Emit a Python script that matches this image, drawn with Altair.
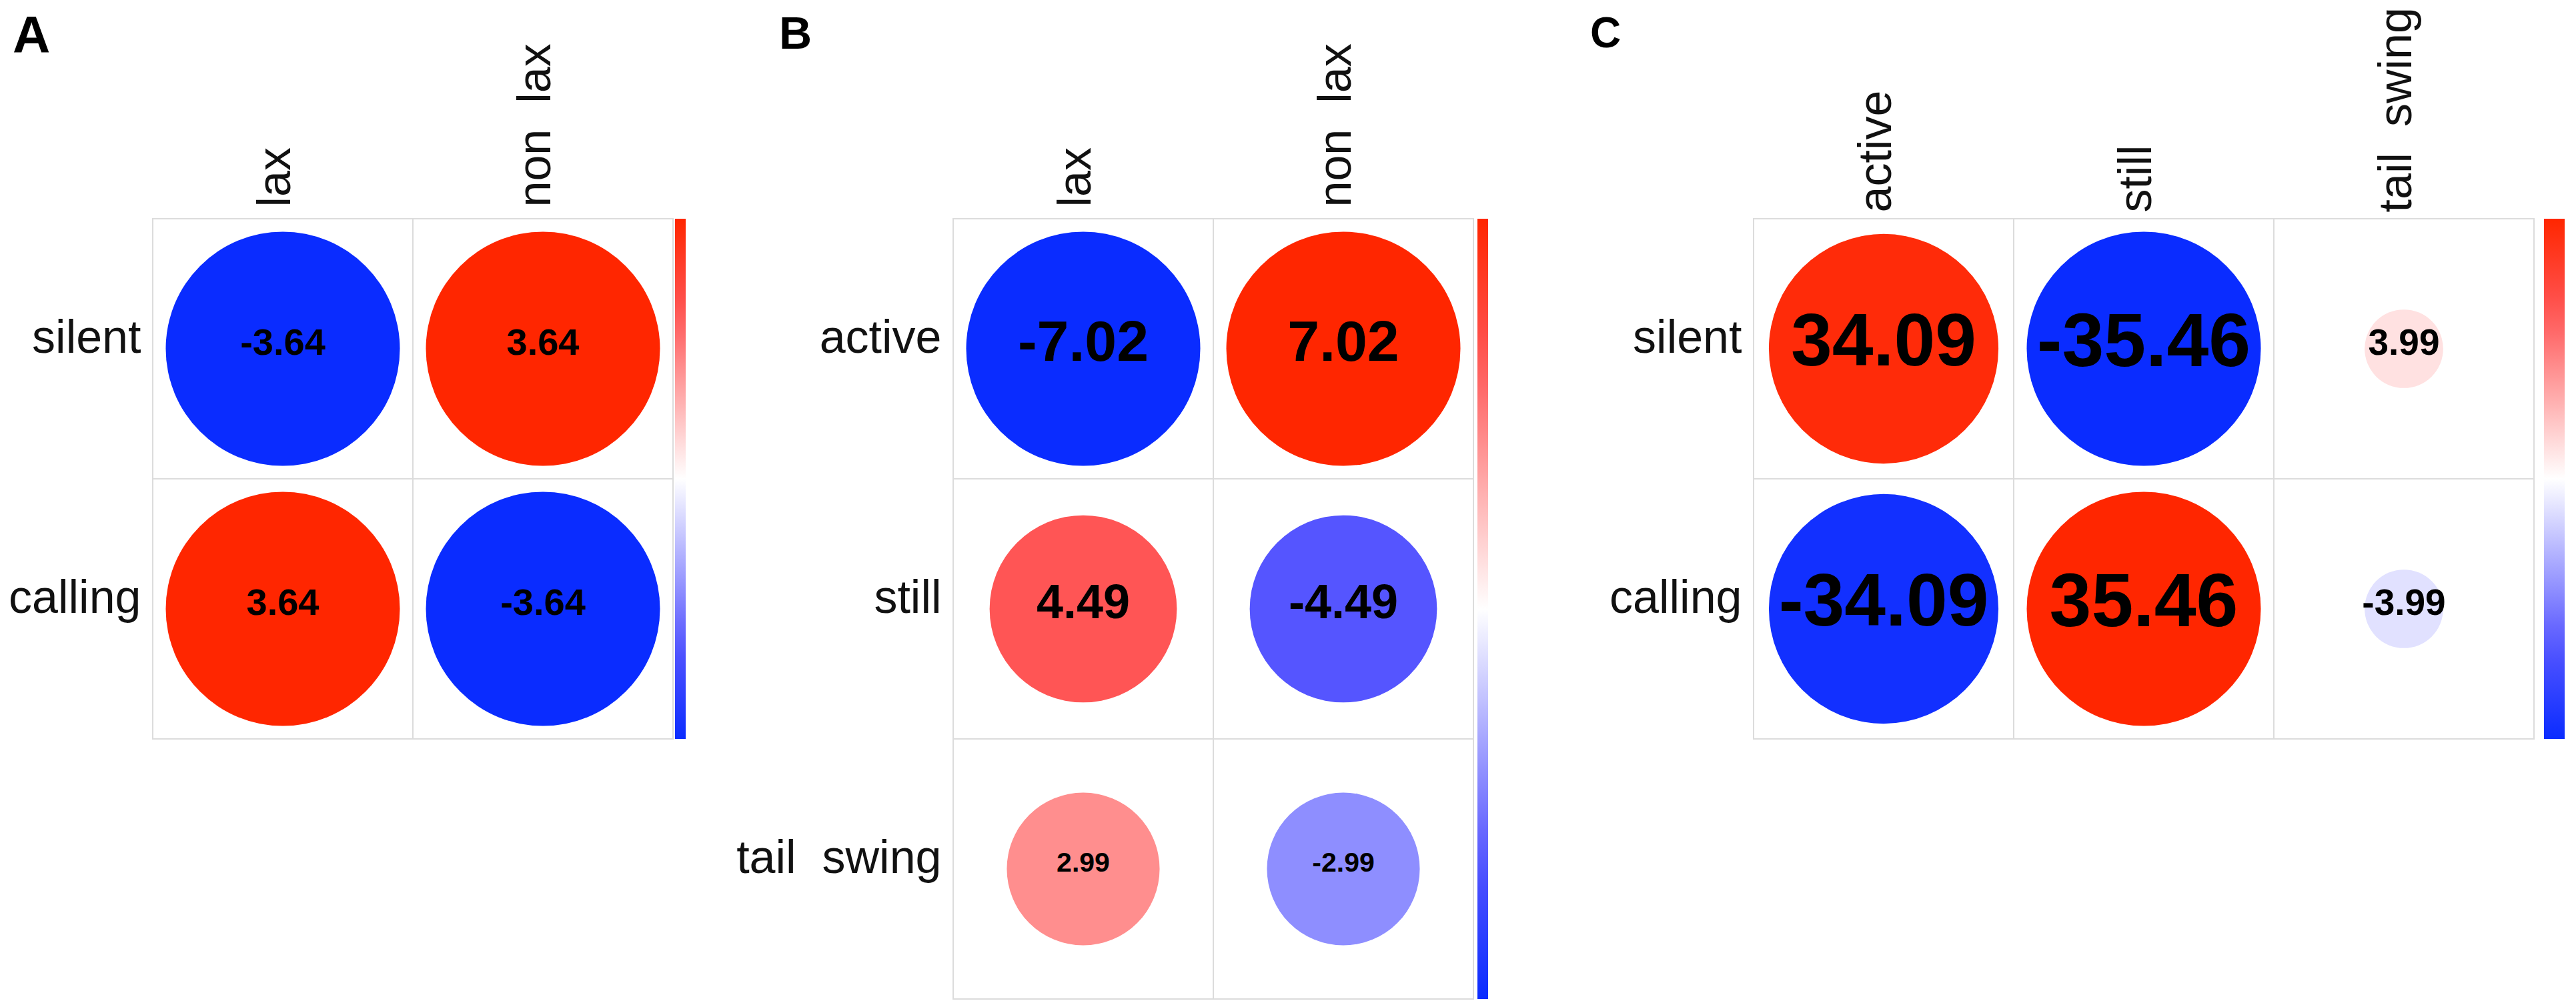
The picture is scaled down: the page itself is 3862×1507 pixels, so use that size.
import altair as alt
import pandas as pd

# ---------------- data ----------------
A_rows = ["silent", "calling"]
A_cols = ["lax", "non\u00a0 lax"]
A_values = [[-3.64, 3.64],
            [3.64, -3.64]]

B_rows = ["active", "still", "tail\u00a0 swing"]
B_cols = ["lax", "non\u00a0 lax"]
B_values = [[-7.02, 7.02],
            [4.49, -4.49],
            [2.99, -2.99]]

C_rows = ["silent", "calling"]
C_cols = ["active", "still", "tail\u00a0 swing"]
C_values = [[34.09, -35.46, 3.99],
            [-34.09, 35.46, -3.99]]

FONT = "Liberation Sans"
COLOR_STOPS = [-1.0, -0.64, 0.0, 0.64, 1.0]
COLOR_RANGE = ["#0A2CFF", "#5555FF", "#FFFFFF", "#FF5555", "#FF2600"]
CELL = 390
GRID = "#DCDCDC"


def table(rows, cols, values):
    recs = []
    for i, r in enumerate(rows):
        for j, c in enumerate(cols):
            v = values[i][j]
            recs.append({"row": r, "col": c, "value": v, "absval": abs(v),
                         "label": f"{v:.2f}"})
    return pd.DataFrame(recs)


def panel(letter, rows, cols, values, text_domain, text_range, title_dx, title_dy,
          title_size, legend_offset, legend_thick, xpad):
    df = table(rows, cols, values)
    m = float(df["absval"].max())
    w = CELL * len(cols)
    h = CELL * len(rows)
    xs = alt.X("col:N", sort=cols,
               scale=alt.Scale(type="band", paddingInner=0, paddingOuter=0),
               axis=alt.Axis(orient="top", title=None, labelAngle=270,
                             labelAlign="left", labelBaseline="middle",
                             labelFont=FONT, labelFontSize=70, labelColor="#111111",
                             labelPadding=xpad, labelLimit=0, labelOffset=-10,
                             ticks=False, domain=False, grid=False))
    ys = alt.Y("row:N", sort=rows,
               scale=alt.Scale(type="band", paddingInner=0, paddingOuter=0),
               axis=alt.Axis(orient="left", title=None,
                             labelFont=FONT, labelFontSize=70, labelColor="#111111",
                             labelPadding=18, labelLimit=0, labelOffset=-15,
                             labelBaseline="middle",
                             ticks=False, domain=False, grid=False))
    base = alt.Chart(df)
    grid = base.mark_rect(fill="white", stroke=GRID, strokeWidth=2).encode(x=xs, y=ys)
    circles = base.mark_circle(opacity=1).encode(
        x=xs, y=ys,
        size=alt.Size("absval:Q", legend=None,
                      scale=alt.Scale(type="linear", zero=True,
                                      domain=[0, m],
                                      range=[0, (0.9 * CELL) ** 2])),
        color=alt.Color("value:Q", title=None,
                        scale=alt.Scale(type="linear",
                                        domain=[s * m for s in COLOR_STOPS],
                                        range=COLOR_RANGE,
                                        interpolate="rgb"),
                        legend=alt.Legend(orient="right", offset=legend_offset,
                                          padding=0, labelOpacity=0,
                                          labelFontSize=1,
                                          gradientLength=h,
                                          gradientThickness=legend_thick,
                                          gradientStrokeWidth=0)),
    )
    texts = base.mark_text(font=FONT, fontWeight="bold", color="black",
                           baseline="middle", align="center", dy=-8).encode(
        x=xs, y=ys,
        text=alt.Text("label:N"),
        size=alt.Size("absval:Q", legend=None,
                      scale=alt.Scale(type="linear", domain=text_domain,
                                      range=text_range)),
    )
    return alt.layer(grid, circles, texts).resolve_scale(size="independent").properties(
        width=w, height=h,
        title=alt.TitleParams(text=letter, anchor="start", frame="group",
                              dx=title_dx, dy=title_dy, fontSize=title_size,
                              font=FONT, fontWeight="bold", color="black",
                              offset=0),
    )


pa = panel("A", A_rows, A_cols, A_values, [0, 3.64], [0, 56], -210, 30, 78, 3, 16, 18)
pb = panel("B", B_rows, B_cols, B_values, [2.99, 4.49, 7.02], [41, 72, 86],
           -261, 22, 68, 6, 16, 18)
pc = panel("C", C_rows, C_cols, C_values, [3.99, 34.09, 35.46], [55, 111, 113],
           -245, 73, 64, 15, 31, 10)

chart = alt.hconcat(pa, pb, pc, spacing=420, bounds="flush").resolve_scale(
    color="independent", size="independent", x="independent", y="independent"
).resolve_legend(color="independent").properties(
    padding={"left": 4, "top": 2, "right": 5, "bottom": 5}
).configure_view(strokeWidth=0)

chart.save("out.html", embed_options={"renderer": "svg", "actions": False})
